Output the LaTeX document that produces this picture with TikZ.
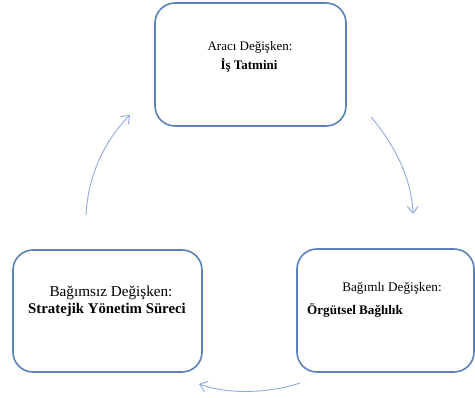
\documentclass[tikz,border=0pt]{standalone}
\usepackage{fontspec}
\setmainfont{Liberation Serif}
\usetikzlibrary{arrows.meta}
\definecolor{boxblue}{HTML}{5B82B8}
\definecolor{arrblue}{HTML}{8EAADB}
\tikzset{
  varbox/.style={draw=boxblue, line width=1.6pt, rounded corners=20pt, fill=white, inner sep=0pt},
  cyc/.style={draw=arrblue, line width=0.9pt, -{Straight Barb[length=7pt, width=11pt, line width=0.9pt]}},
  lbl/.style={inner sep=0pt, anchor=base}
}
\begin{document}
\begin{tikzpicture}[x=1pt, y=-1pt]
\useasboundingbox (0,0) rectangle (475,398);
% boxes
\draw[varbox] (155,3) rectangle (346,126);
\draw[varbox] (13,250) rectangle (202,372);
\draw[varbox] (297,249) rectangle (474,372);
\node (top) at (250.5,64.5) {};
\node (left) at (107.5,311) {};
\node (right) at (385.5,310.5) {};
% texts
\node[lbl, font=\fontsize{13}{15}\selectfont] (t1) at (250,51) {Aracı Değişken:};
\node[lbl, font=\fontsize{13}{15}\selectfont\bfseries] (t2) at (249,70) {İş Tatmini};
\node[lbl, font=\fontsize{15.2}{17}\selectfont] (l1) at (111,297) {Bağımsız Değişken:};
\node[lbl, font=\fontsize{14.8}{17}\selectfont\bfseries] (l2) at (107,314) {Stratejik Yönetim Süreci};
\node[lbl, font=\fontsize{13.2}{15}\selectfont] (r1) at (392,292) {Bağımlı Değişken:};
\node[lbl, anchor=base west, font=\fontsize{13.1}{15}\selectfont\bfseries] (r2) at (307,315) {Örgütsel Bağlılık};
% cycle connectors
\coordinate (a1s) at (371,117);
\coordinate (a1e) at (413,214);
\coordinate (a2s) at (300,383);
\coordinate (a2e) at (199,384);
\coordinate (a3s) at (86,215);
\coordinate (a3e) at (130,115);
\draw[cyc] (a1s) .. controls (395,145) and (412,180) .. (a1e);
\draw[cyc] (a2s) .. controls (270,393) and (230,395) .. (a2e);
\draw[cyc] (a3s) .. controls (88,175) and (105,140) .. (a3e);
\end{tikzpicture}
\end{document}
